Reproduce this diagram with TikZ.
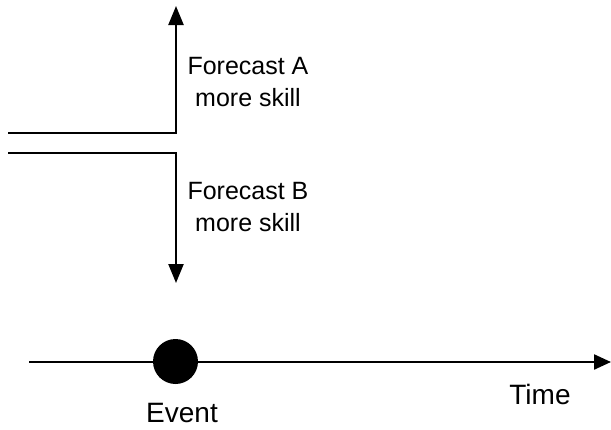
\documentclass[tikz,border=0pt]{standalone}
\usepackage{fontspec}
\setmainfont{Liberation Sans}
\usetikzlibrary{arrows.meta}
\begin{document}
\begin{tikzpicture}[x=1pt,y=-1pt,
  wire/.style={line width=2.3pt},
  tip/.style={-{Triangle[length=19pt,width=15pt]}},
  label/.style={font=\fontsize{25}{32}\selectfont,align=center,inner sep=0pt},
  biglabel/.style={font=\fontsize{28}{34}\selectfont,inner sep=0pt},
  eventdot/.style={circle,fill=black,minimum size=45pt,inner sep=0pt}]
  \useasboundingbox (0,0) rectangle (611,429);

  % skill comparison branches
  \coordinate (aStart) at (8,133);
  \coordinate (aBend) at (176,133);
  \coordinate (aEnd) at (176,6);
  \coordinate (bStart) at (8,153);
  \coordinate (bBend) at (176,153);
  \coordinate (bEnd) at (176,283);
  \draw[wire,tip] (aStart) -- (aBend) -- (aEnd);
  \draw[wire,tip] (bStart) -- (bBend) -- (bEnd);
  \node[label] (fa) at (248,82) {Forecast A\\more skill};
  \node[label] (fb) at (248,207) {Forecast B\\more skill};

  % time axis with the event
  \coordinate (tStart) at (29,362);
  \coordinate (tEnd) at (611,362);
  \draw[wire,-{Triangle[length=17pt,width=15pt]}] (tStart) -- (tEnd);
  \node[eventdot] (ev) at (175.5,361.5) {};
  \node[biglabel] (evl) at (182,413) {Event};
  \node[biglabel] (tl) at (540,394) {Time};
\end{tikzpicture}
\end{document}
